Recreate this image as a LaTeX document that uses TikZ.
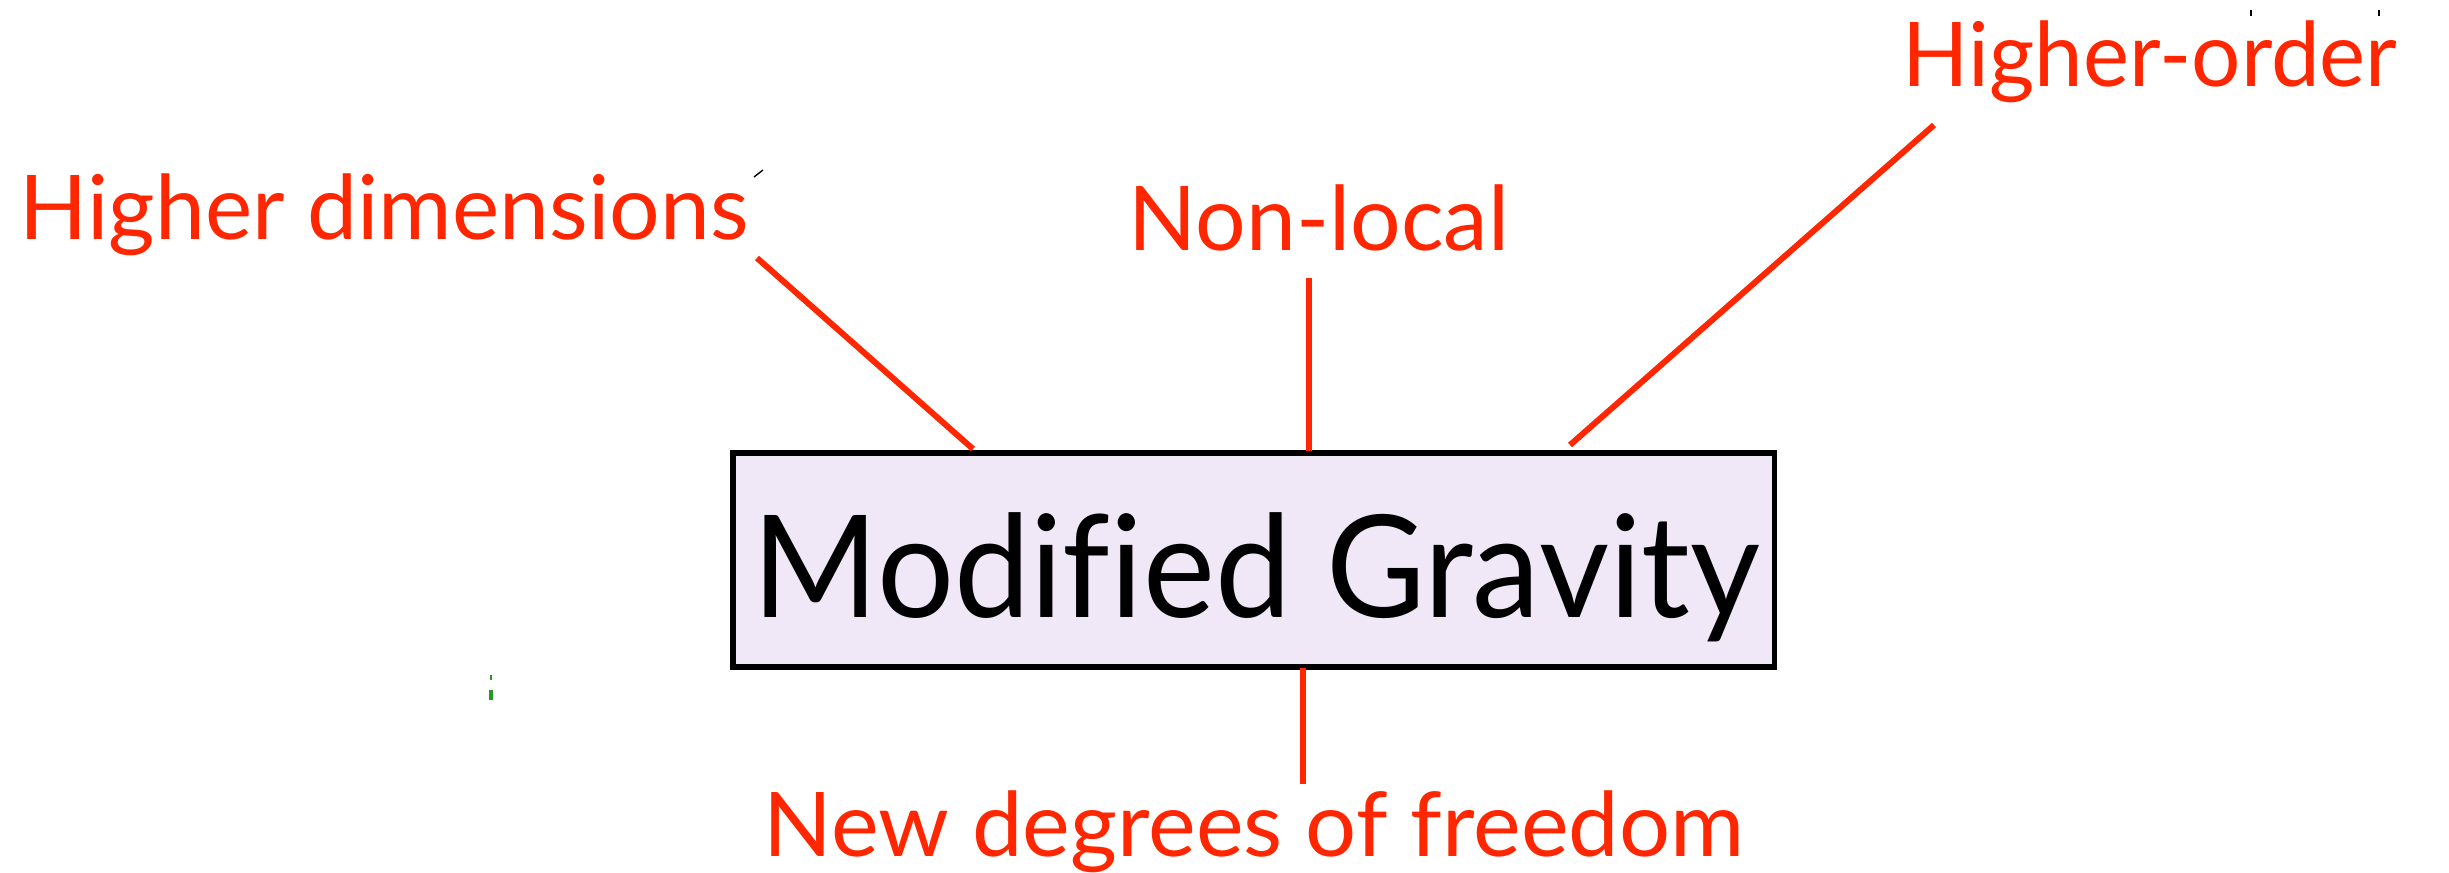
\documentclass[tikz,border=0pt]{standalone}
\usepackage{fontspec}
\setmainfont{Lato}[Ligatures=NoCommon]
\definecolor{kred}{RGB}{255,38,0}
\definecolor{lav}{RGB}{240,232,246}
\definecolor{kgreen}{RGB}{40,150,40}
\begin{document}
\begin{tikzpicture}[x=0.01cm,y=-0.01cm,
  lbl/.style={text=kred,inner sep=0pt,anchor=base west,font=\fontsize{25.4}{30}\selectfont},
  conn/.style={draw=kred,line width=1.7pt},
  mainbox/.style={draw=black,fill=lav,line width=1.6pt,minimum width=10.41cm,minimum height=2.14cm,inner sep=0pt}]
\useasboundingbox (0,0) rectangle (2449,873);
% main box
\node[mainbox] (mg) at (1253.5,560) {};
\node[inner sep=0pt,anchor=base west,font=\fontsize{40.5}{48}\selectfont] (mgtext) at (752,617) {\scalebox{0.955}[1]{Modified Gravity}};
% labels
\node[lbl] (hd) at (19,239) {Higher dimensions};
\node[lbl] (nl) at (1128,250) {Non-local};
\node[lbl] (ho) at (1902,87) {\scalebox{0.975}[1]{Higher-order}};
\node[lbl] (nd) at (763,856) {\scalebox{1.01}[1]{New degrees of freedom}};
% connector ends
\coordinate (hd-e) at (757,258);
\coordinate (hd-b) at (973,449);
\coordinate (nl-e) at (1309,278);
\coordinate (nl-b) at (1309,451);
\coordinate (ho-e) at (1934,125);
\coordinate (ho-b) at (1570,445);
\coordinate (nd-b) at (1303,668);
\coordinate (nd-e) at (1303,784);
\draw[conn] (hd-e) -- (hd-b);
\draw[conn] (nl-e) -- (nl-b);
\draw[conn] (ho-e) -- (ho-b);
\draw[conn] (nd-b) -- (nd-e);
% stray marks
\draw[line width=0.4pt] (754,177) -- (763,170);
\draw[line width=0.5pt] (2251,10) -- (2251,16);
\draw[line width=0.5pt] (2379,10) -- (2379,16);
\draw[kgreen,line width=0.8pt] (491,675) -- (491,680);
\draw[kgreen,line width=1.2pt] (491,690) -- (491,700);
\end{tikzpicture}
\end{document}
